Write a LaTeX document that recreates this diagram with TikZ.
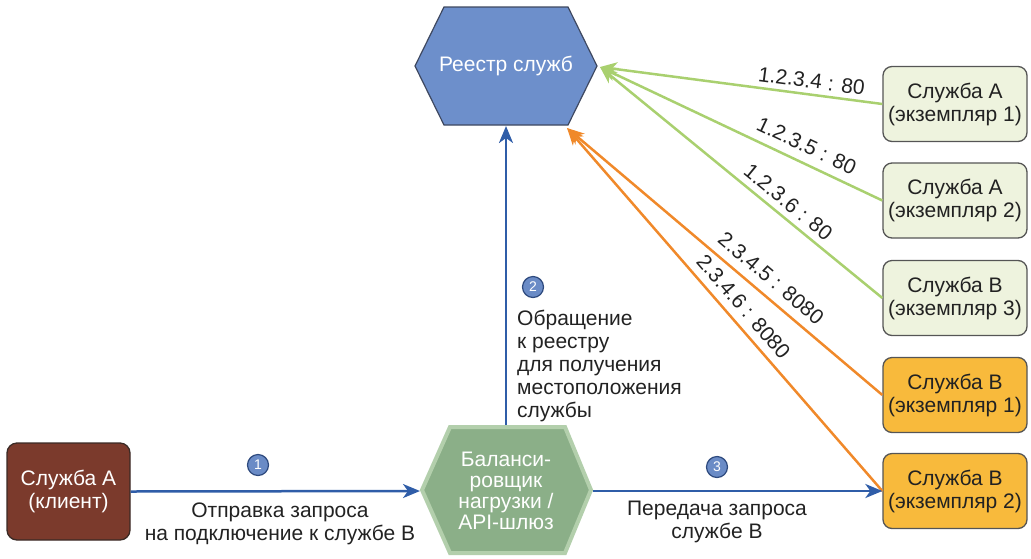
\documentclass[tikz,border=0pt]{standalone}
\usepackage{fontspec}
\setmainfont{Liberation Sans}
\usetikzlibrary{arrows.meta}
\definecolor{txtc}{HTML}{222222}
\definecolor{regfill}{HTML}{6D8FCB}
\definecolor{regborder}{HTML}{3E4860}
\definecolor{lbfill}{HTML}{8BAF88}
\definecolor{lbborder}{HTML}{B3CFAC}
\definecolor{clfill}{HTML}{7B3A2C}
\definecolor{clborder}{HTML}{3A2A25}
\definecolor{lightg}{HTML}{EEF3DE}
\definecolor{orangef}{HTML}{F8BA3C}
\definecolor{boxborder}{HTML}{555555}
\definecolor{gline}{HTML}{A9D06F}
\definecolor{oline}{HTML}{F0892A}
\definecolor{bline}{HTML}{2F5DA8}
\definecolor{numfill}{HTML}{6A8BC6}
\definecolor{numborder}{HTML}{2E4A7E}
\tikzset{
  bigfont/.style={font=\fontsize{21}{23}\selectfont},
  svcbox/.style={draw=boxborder, line width=1.3pt, rounded corners=9pt,
    minimum width=144pt, minimum height=75pt, align=center, inner sep=0pt,
    bigfont, text=txtc},
  svcA/.style={svcbox, fill=lightg},
  svcB/.style={svcbox, fill=orangef},
  tipS/.style={-{Stealth[length=17pt,width=14pt,inset=5pt]}},
  garrow/.style={draw=gline, line width=2.5pt, tipS},
  oarrow/.style={draw=oline, line width=2.5pt, tipS},
  barrow/.style={draw=bline, line width=2.5pt, tipS},
  iplbl/.style={sloped, above, bigfont, text=txtc},
  numc/.style={circle, fill=numfill, draw=numborder, line width=1.2pt,
    minimum size=21pt, inner sep=0pt, text=white, font=\fontsize{14}{14}\selectfont},
  lbl/.style={align=center, bigfont, text=txtc, inner sep=0pt},
}
\begin{document}
\begin{tikzpicture}[x=1pt,y=-1pt]
\useasboundingbox (0,0) rectangle (1031,558);
% registry hexagon
\draw[fill=regfill, draw=regborder, line width=1.2pt]
  (415,66) -- (444,7) -- (568,7) -- (597,66) -- (568,125) -- (444,125) -- cycle;
\node[bigfont, text=white, inner sep=0pt] (reg) at (506,66) {Реестр служб};
\coordinate (regE) at (600,67);
\coordinate (regSE) at (567,128);
\coordinate (regS) at (506,126);
% load balancer hexagon
\draw[fill=lbfill, draw=lbborder, line width=4pt]
  (422,490) -- (450,427) -- (565,427) -- (591,490) -- (565,553) -- (450,553) -- cycle;
\node[align=center, font=\fontsize{21}{21}\selectfont, text=white, inner sep=0pt] (lb) at (506,491)
  {Баланси-\\ровщик\\нагрузки /\\API-шлюз};
\coordinate (lbW) at (420,491);
\coordinate (lbE) at (593,491);
\coordinate (lbN) at (506,425);
% client
\node[draw=clborder, fill=clfill, line width=1.3pt, rounded corners=10pt,
  minimum width=123pt, minimum height=97pt, align=center, inner sep=0pt,
  bigfont, text=white] (cl) at (68.5,491.5) {Служба А\\(клиент)};
% services
\node[svcA] (s1) at (955,104) {Служба А\\(экземпляр 1)};
\node[svcA] (s2) at (955,200.5) {Служба А\\(экземпляр 2)};
\node[svcA] (s3) at (955,298) {Служба В\\(экземпляр 3)};
\node[svcB] (s4) at (955,395) {Служба В\\(экземпляр 1)};
\node[svcB] (s5) at (955,491) {Служба В\\(экземпляр 2)};
% registration arrows
\draw[garrow] (s1.west) -- node[iplbl, inner sep=5pt, pos=0.257] {1.2.3.4 : 80} (regE);
\draw[garrow] (s2.west) -- node[iplbl, inner sep=8.5pt, pos=0.294] {1.2.3.5 : 80} (regE);
\draw[garrow] (s3.west) -- node[iplbl, inner sep=6pt, pos=0.366] {1.2.3.6 : 80} (regE);
\draw[oarrow] (s4.west) -- node[iplbl, inner sep=8.5pt, pos=0.388] {2.3.4.5 : 8080} (regSE);
\draw[oarrow] (s5.west) -- node[iplbl, inner sep=7.5pt, pos=0.479] {2.3.4.6 : 8080} (regSE);
% flow arrows
\draw[barrow] (cl.east) -- (lbW);
\draw[barrow] (lbE) -- (s5.west);
\draw[barrow] (lbN) -- (regS);
% numbers
\node[numc] (n1) at (258,465) {1};
\node[numc] (n2) at (533,287) {2};
\node[numc] (n3) at (717,467) {3};
% labels
\node[lbl] (t1) at (280,524) {Отправка запроса\\на подключение к службе В};
\node[lbl] (t3) at (717,522) {Передача запроса\\службе В};
\node[bigfont, text=txtc, align=left, inner sep=0pt, anchor=north west] (t2) at (517,309.5)
  {Обращение\\к реестру\\для получения\\местоположения\\службы};
\end{tikzpicture}
\end{document}
